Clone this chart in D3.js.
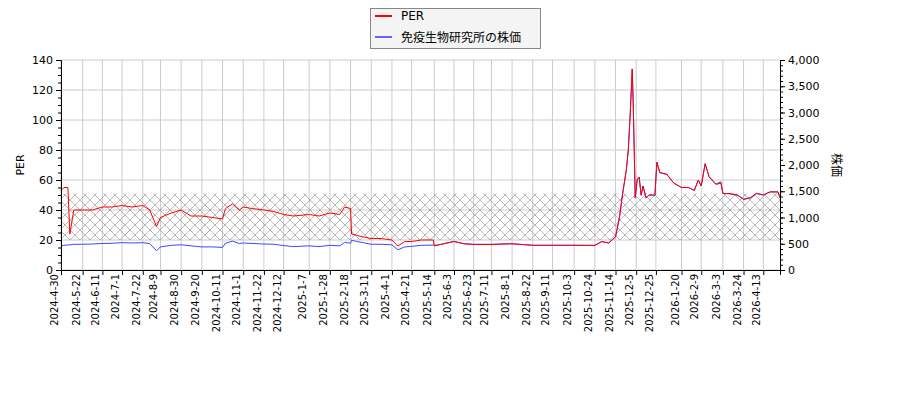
<!DOCTYPE html><html><head><meta charset="utf-8"><script src="https://cdn.jsdelivr.net/npm/d3@7"></script>
<style>body{margin:0;background:#fff}text{font-family:"DejaVu Sans";}</style></head><body><svg id="c" width="900" height="400"></svg>
<script>
const dates=["2024-4-30","2024-5-3","2024-5-7","2024-5-9","2024-5-13","2024-5-22","2024-6-1","2024-6-11","2024-6-21","2024-7-1","2024-7-11","2024-7-22","2024-7-29","2024-8-5","2024-8-9","2024-8-20","2024-8-30","2024-9-9","2024-9-20","2024-10-1","2024-10-11","2024-10-14","2024-10-21","2024-10-28","2024-11-1","2024-11-10","2024-11-22","2024-12-2","2024-12-12","2024-12-22","2025-1-7","2025-1-17","2025-1-28","2025-2-7","2025-2-12","2025-2-18","2025-2-19","2025-2-25","2025-3-3","2025-3-11","2025-3-21","2025-4-1","2025-4-7","2025-4-14","2025-4-21","2025-5-1","2025-5-13","2025-5-14","2025-5-20","2025-6-3","2025-6-13","2025-6-23","2025-7-11","2025-8-1","2025-8-22","2025-9-11","2025-10-3","2025-10-24","2025-10-31","2025-11-7","2025-11-14","2025-11-18","2025-11-21","2025-11-25","2025-11-27","2025-11-29","2025-12-1","2025-12-2","2025-12-3","2025-12-4","2025-12-6","2025-12-8","2025-12-10","2025-12-12","2025-12-15","2025-12-18","2025-12-24","2025-12-26","2025-12-29","2026-1-5","2026-1-12","2026-1-20","2026-1-27","2026-2-2","2026-2-6","2026-2-9","2026-2-13","2026-2-17","2026-2-24","2026-3-1","2026-3-3","2026-3-10","2026-3-18","2026-3-24","2026-3-31","2026-4-6","2026-4-13","2026-4-20","2026-4-28","2026-4-30"];
const per=[53,55,55,24,40,40,40,42,42,43,42,43,40,29,35,38,40,36,36,35,34,41,44,40,42,41,40,39,37,36,37,36,38,37,42,41,24,23,22,21,21,20,16,19,19,20,20,16,17,19,17.5,17,17,17.5,16.5,16.5,16.5,16.5,19,18,22,35,50,67,80,105,134,110,80,48,60,62,50,56,48,50,50,72,65,64,58,55,55,53,60,56,71,62,57,58,51,51,50,47,48,51,50,52,52,48];
const price=[460,470,475,480,490,490,495,505,510,520,515,520,505,365,440,470,480,460,440,440,430,510,550,505,515,505,495,490,465,445,460,445,470,460,525,510,565,540,520,490,490,480,385,440,450,470,475,470,485,545,500,490,490,500,470,470,470,465,540,515,630,1000,1430,1900,2300,3000,3830,3150,2300,1380,1720,1770,1420,1600,1370,1430,1420,2050,1850,1820,1660,1570,1570,1520,1710,1600,2020,1780,1640,1680,1460,1450,1420,1350,1380,1460,1430,1490,1490,1380];
const tickLabels=["2024-4-30","2024-5-22","2024-6-11","2024-7-1","2024-7-22","2024-8-9","2024-8-30","2024-9-20","2024-10-11","2024-11-1","2024-11-22","2024-12-12","2025-1-7","2025-1-28","2025-2-18","2025-3-11","2025-4-1","2025-4-21","2025-5-14","2025-6-3","2025-6-23","2025-7-11","2025-8-1","2025-8-22","2025-9-11","2025-10-3","2025-10-24","2025-11-14","2025-12-5","2025-12-25","2026-1-20","2026-2-9","2026-3-3","2026-3-24","2026-4-13"];
const band=[20,51];
const pd=s=>{const [y,m,d]=s.split("-").map(Number);return new Date(y,m-1,d);};
const svg=d3.select("#c");
const L=61,R=780,T=60,B=270;
const x=d3.scaleTime().domain([pd("2024-4-30"),pd("2026-4-30")]).range([L,R]);
const yl=d3.scaleLinear().domain([0,140]).range([B,T]);
const yr=d3.scaleLinear().domain([0,4000]).range([B,T]);
const defs=svg.append("defs");
const pat=defs.append("pattern").attr("id","h").attr("patternUnits","userSpaceOnUse").attr("width",10).attr("height",10);
pat.append("path").attr("d","M0,0L10,10M10,0L0,10").attr("stroke","#999").attr("stroke-width",0.7);
const g=svg.append("g");
yl.ticks(7).forEach(v=>g.append("line").attr("x1",L).attr("x2",R).attr("y1",yl(v)).attr("y2",yl(v)).attr("stroke","#ccc"));
tickLabels.forEach(t=>g.append("line").attr("x1",x(pd(t))).attr("x2",x(pd(t))).attr("y1",T).attr("y2",B).attr("stroke","#ccc"));
svg.append("rect").attr("x",L).attr("width",R-L).attr("y",yl(band[1])).attr("height",yl(band[0])-yl(band[1])).attr("fill","url(#h)");
const P=dates.map((d,i)=>({d:pd(d),p:per[i],v:price[i]}));
svg.append("path").datum(P).attr("fill","none").attr("stroke","#4444ff").attr("stroke-width",1).attr("d",d3.line().x(d=>x(d.d)).y(d=>yr(d.v)));
svg.append("path").datum(P).attr("fill","none").attr("stroke","red").attr("stroke-width",1).attr("d",d3.line().x(d=>x(d.d)).y(d=>yl(d.p)));
const ax=svg.append("g").attr("transform",`translate(0,${B})`).call(d3.axisBottom(x).tickValues(tickLabels.map(pd)).tickFormat((d,i)=>tickLabels[i]).tickSize(5));
ax.selectAll("text").attr("transform","rotate(-90)").attr("text-anchor","end").attr("dx","-4").attr("dy","-0.35em").attr("x",0).attr("y",0).style("font-size","10px");
const al=svg.append("g").attr("transform",`translate(${L},0)`).call(d3.axisLeft(yl).ticks(7).tickSize(5));
svg.append("g").attr("transform",`translate(${L},0)`).call(d3.axisLeft(yl).ticks(28).tickSize(3).tickFormat("")).select(".domain").remove();
const ar=svg.append("g").attr("transform",`translate(${R},0)`).call(d3.axisRight(yr).ticks(8).tickSize(5));
svg.append("g").attr("transform",`translate(${R},0)`).call(d3.axisRight(yr).ticks(40).tickSize(3).tickFormat("")).select(".domain").remove();
svg.selectAll(".tick text").style("font-size","11px");
ax.selectAll("text").style("font-size","10px");
svg.append("line").attr("x1",L).attr("x2",R).attr("y1",T).attr("y2",T).attr("stroke","none");
svg.append("text").attr("transform",`translate(24,${(T+B)/2}) rotate(-90)`).attr("text-anchor","middle").style("font-size","11px").text("PER");
svg.append("text").attr("transform",`translate(832,${(T+B)/2}) rotate(90)`).attr("text-anchor","middle").style("font-size","12px").style("font-family","Noto Sans CJK JP").text("株価");
const lg=svg.append("g");
lg.append("rect").attr("x",370.5).attr("y",8.5).attr("width",170).attr("height",40).attr("fill","#f4f4f4").attr("stroke","#888");
lg.append("line").attr("x1",375).attr("x2",392).attr("y1",16).attr("y2",16).attr("stroke","red").attr("stroke-width",2);
lg.append("line").attr("x1",375).attr("x2",392).attr("y1",37).attr("y2",37).attr("stroke","#6666ff").attr("stroke-width",2);
lg.append("text").attr("x",401).attr("y",20).style("font-size","12px").text("PER");
lg.append("text").attr("x",401).attr("y",42).style("font-size","12px").style("font-family","Noto Sans CJK JP").text("免疫生物研究所の株価");
</script></body></html>
